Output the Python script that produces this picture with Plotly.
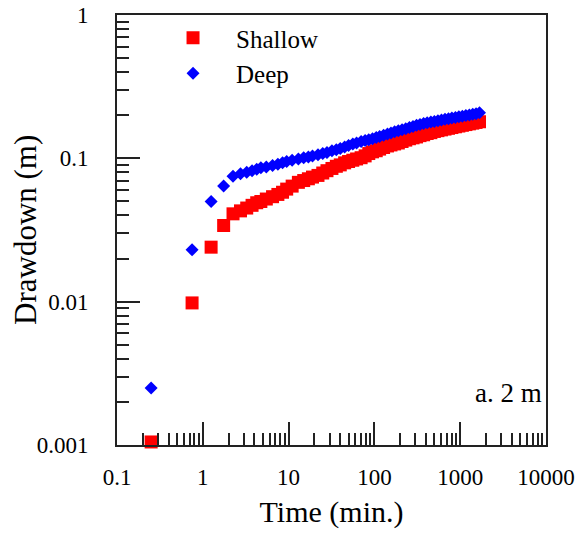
import plotly.graph_objects as go

time_min = [0.25, 0.75, 1.25, 1.75, 2.25, 2.75, 3.25, 3.75, 4.25, 4.75,
            5.5, 6.5, 7.5, 8.5, 9.5, 11, 13, 15, 17, 19,
            22, 25, 28, 32, 36, 40, 45, 50, 56, 62,
            70, 78, 86, 95, 105, 115, 128, 142, 156, 172,
            190, 210, 232, 256, 282, 310, 340, 375, 412, 455,
            500, 550, 605, 665, 730, 800, 880, 965, 1060, 1165,
            1280, 1400, 1530, 1680]

shallow = [0.00105, 0.0098, 0.024, 0.034, 0.041, 0.043, 0.045, 0.047, 0.049, 0.050,
           0.052, 0.054, 0.056, 0.058, 0.061, 0.064, 0.068, 0.070, 0.072, 0.074,
           0.076, 0.079, 0.082, 0.085, 0.088, 0.090, 0.093, 0.095, 0.097, 0.099,
           0.101, 0.104, 0.108, 0.111, 0.113, 0.116, 0.119, 0.122, 0.124, 0.126,
           0.128, 0.131, 0.134, 0.137, 0.139, 0.141, 0.144, 0.146, 0.149, 0.151,
           0.154, 0.156, 0.158, 0.160, 0.162, 0.164, 0.166, 0.168, 0.170, 0.172,
           0.174, 0.176, 0.178, 0.180]

deep = [0.0025, 0.023, 0.050, 0.064, 0.075, 0.078, 0.080, 0.082, 0.084, 0.086,
        0.087, 0.089, 0.091, 0.093, 0.095, 0.097, 0.099, 0.101, 0.102, 0.104,
        0.106, 0.108, 0.110, 0.113, 0.115, 0.117, 0.120, 0.123, 0.126, 0.128,
        0.131, 0.133, 0.135, 0.137, 0.140, 0.142, 0.145, 0.148, 0.150, 0.153,
        0.156, 0.158, 0.161, 0.164, 0.167, 0.170, 0.172, 0.175, 0.177, 0.179,
        0.181, 0.183, 0.185, 0.187, 0.189, 0.191, 0.193, 0.195, 0.197, 0.199,
        0.201, 0.203, 0.205, 0.208]

x_tickvals = [0.1, 1, 10, 100, 1000, 10000]
x_ticktext = ["0.1", "1", "10", "100", "1000", "10000"]
y_tickvals = [0.001, 0.01, 0.1, 1]
y_ticktext = ["0.001", "0.01", "0.1", "1"]

FONT = "Liberation Serif, Times New Roman, serif"
AXC = "#222222"

fig = go.Figure()
fig.add_trace(go.Scatter(x=time_min, y=shallow, mode="markers", name="Shallow",
                         cliponaxis=False,
                         marker=dict(symbol="square", size=13, color="#FF0000")))
fig.add_trace(go.Scatter(x=time_min, y=deep, mode="markers", name="Deep",
                         cliponaxis=False,
                         marker=dict(symbol="diamond", size=10, color="#0000FF")))

axis_common = dict(
    type="log", showgrid=False, zeroline=False, automargin=False,
    showline=True, linecolor=AXC, linewidth=1.8, mirror=True,
    ticks="inside", ticklen=23, tickwidth=1.5, tickcolor=AXC,
    tickfont=dict(family=FONT, size=23, color="black"),
    minor=dict(ticks="inside", ticklen=12, tickwidth=1.5, tickcolor=AXC,
               dtick="D1", showgrid=False),
)

fig.update_xaxes(range=[-1, 4], tickvals=x_tickvals, ticktext=x_ticktext,
                 ticklabelstandoff=10,
                 title=dict(text="Time (min.)", font=dict(family=FONT, size=30, color="black"),
                            standoff=12),
                 **axis_common)
fig.update_yaxes(range=[-3, 0], tickvals=y_tickvals, ticktext=y_ticktext,
                 ticklabelstandoff=22,
                 **axis_common)

# y-axis title placed as rotated text
fig.add_annotation(text="Drawdown (m)", xref="paper", yref="paper", x=-0.2145, y=0.5,
                   xanchor="center", yanchor="middle", textangle=-90, showarrow=False,
                   font=dict(family=FONT, size=31, color="black"))

fig.add_annotation(text="a. 2 m", xref="paper", yref="paper", x=0.995, y=0.12,
                   xanchor="right", yanchor="middle", showarrow=False,
                   font=dict(family=FONT, size=27, color="black"))

fig.update_layout(
    width=582, height=535,
    margin=dict(l=117, r=36, t=15, b=90),
    paper_bgcolor="white", plot_bgcolor="white",
    font=dict(family=FONT, color="black"),
    legend=dict(x=0.077, y=1.0, xanchor="left", yanchor="top", itemwidth=76,
                bgcolor="rgba(0,0,0,0)", font=dict(family=FONT, size=25, color="black"),
                tracegroupgap=4),
    showlegend=True,
)

fig.write_html("out.html")
